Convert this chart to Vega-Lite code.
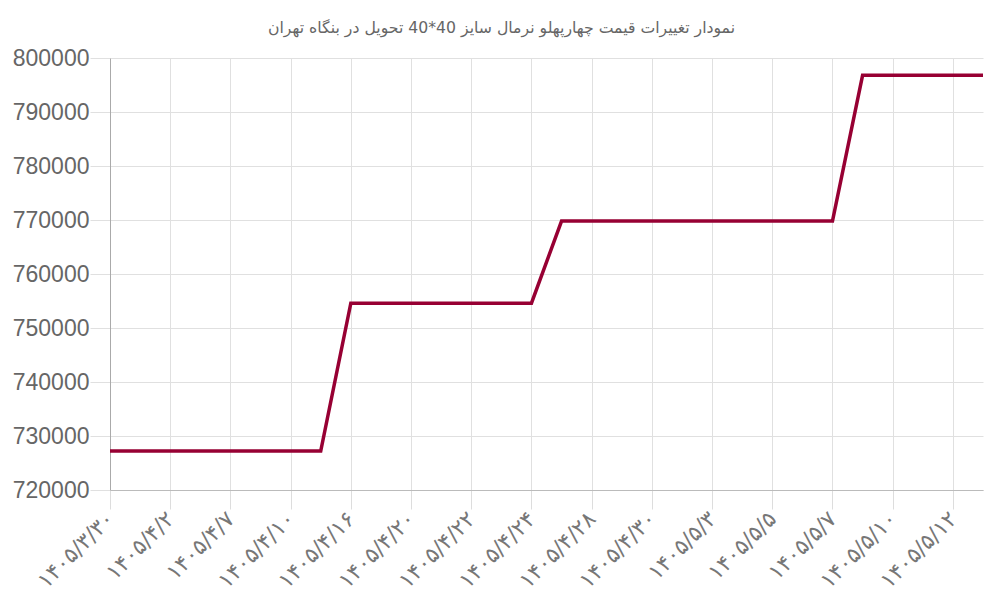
{
  "$schema": "https://vega.github.io/schema/vega-lite/v6.json",
  "width": 873,
  "height": 432,
  "autosize": {"type": "none"},
  "padding": {"left": 110, "top": 58, "right": 17, "bottom": 110},
  "background": "white",
  "title": {
    "text": "نمودار تغییرات قیمت چهارپهلو نرمال سایز 40*40 تحویل در بنگاه تهران",
    "font": "DejaVu Sans",
    "fontSize": 15.7,
    "fontWeight": "normal",
    "color": "#666666",
    "anchor": "middle",
    "dx": -45,
    "offset": 10
  },
  "data": {
    "values": [
      {"date": "۱۴۰۵/۳/۳۰", "price": 727200},
      {"date": "۱۴۰۵/۳/۳۱", "price": 727200},
      {"date": "۱۴۰۵/۴/۲", "price": 727200},
      {"date": "۱۴۰۵/۴/۳", "price": 727200},
      {"date": "۱۴۰۵/۴/۷", "price": 727200},
      {"date": "۱۴۰۵/۴/۹", "price": 727200},
      {"date": "۱۴۰۵/۴/۱۰", "price": 727200},
      {"date": "۱۴۰۵/۴/۱۴", "price": 727200},
      {"date": "۱۴۰۵/۴/۱۶", "price": 754600},
      {"date": "۱۴۰۵/۴/۱۷", "price": 754600},
      {"date": "۱۴۰۵/۴/۲۰", "price": 754600},
      {"date": "۱۴۰۵/۴/۲۱", "price": 754600},
      {"date": "۱۴۰۵/۴/۲۲", "price": 754600},
      {"date": "۱۴۰۵/۴/۲۳", "price": 754600},
      {"date": "۱۴۰۵/۴/۲۴", "price": 754600},
      {"date": "۱۴۰۵/۴/۲۷", "price": 769800},
      {"date": "۱۴۰۵/۴/۲۸", "price": 769800},
      {"date": "۱۴۰۵/۴/۲۹", "price": 769800},
      {"date": "۱۴۰۵/۴/۳۰", "price": 769800},
      {"date": "۱۴۰۵/۴/۳۱", "price": 769800},
      {"date": "۱۴۰۵/۵/۳", "price": 769800},
      {"date": "۱۴۰۵/۵/۴", "price": 769800},
      {"date": "۱۴۰۵/۵/۵", "price": 769800},
      {"date": "۱۴۰۵/۵/۶", "price": 769800},
      {"date": "۱۴۰۵/۵/۷", "price": 769800},
      {"date": "۱۴۰۵/۵/۸", "price": 796800},
      {"date": "۱۴۰۵/۵/۱۰", "price": 796800},
      {"date": "۱۴۰۵/۵/۱۱", "price": 796800},
      {"date": "۱۴۰۵/۵/۱۲", "price": 796800},
      {"date": "۱۴۰۵/۵/۱۳", "price": 796800}
    ]
  },
  "mark": {"type": "line", "color": "#970033", "strokeWidth": 3.5, "strokeJoin": "miter"},
  "encoding": {
    "x": {
      "field": "date",
      "type": "ordinal",
      "sort": null,
      "scale": {"type": "point", "padding": 0},
      "axis": {
        "title": null,
        "values": ["۱۴۰۵/۳/۳۰", "۱۴۰۵/۴/۲", "۱۴۰۵/۴/۷", "۱۴۰۵/۴/۱۰", "۱۴۰۵/۴/۱۶", "۱۴۰۵/۴/۲۰", "۱۴۰۵/۴/۲۲", "۱۴۰۵/۴/۲۴", "۱۴۰۵/۴/۲۸", "۱۴۰۵/۴/۳۰", "۱۴۰۵/۵/۳", "۱۴۰۵/۵/۵", "۱۴۰۵/۵/۷", "۱۴۰۵/۵/۱۰", "۱۴۰۵/۵/۱۲"],
        "labelAngle": -45,
        "labelAlign": "right",
        "labelBaseline": "middle",
        "labelFont": "DejaVu Sans",
        "labelFontSize": 22,
        "labelColor": "#777777",
        "labelPadding": 6,
        "tickSize": 19,
        "tickColor": "#dddddd",
        "domainColor": "#bbbbbb",
        "gridColor": "#e0e0e0",
        "grid": true
      }
    },
    "y": {
      "field": "price",
      "type": "quantitative",
      "scale": {"domain": [720000, 800000], "nice": false, "zero": false},
      "axis": {
        "title": null,
        "values": [720000, 730000, 740000, 750000, 760000, 770000, 780000, 790000, 800000],
        "format": "d",
        "labelFont": "Liberation Sans",
        "labelFontSize": 23,
        "labelColor": "#666666",
        "labelPadding": 1,
        "tickSize": 20,
        "tickColor": "#e0e0e0",
        "domainColor": "#aaaaaa",
        "gridColor": "#e0e0e0",
        "grid": true
      }
    }
  },
  "config": {
    "view": {"stroke": null}
  }
}
